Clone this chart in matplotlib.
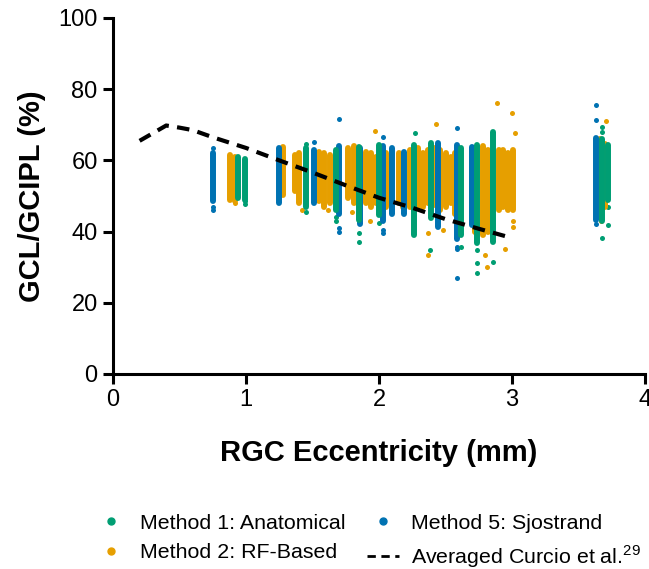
import matplotlib
matplotlib.use("Agg")
import matplotlib.pyplot as plt
from matplotlib.lines import Line2D

plt.rcParams['font.family'] = ['Liberation Sans', 'DejaVu Sans']
plt.rcParams['mathtext.fontset'] = 'custom'
plt.rcParams['mathtext.rm'] = 'Liberation Sans'

GREEN = '#009E73'
ORANGE = '#E69F00'
BLUE = '#0072B2'

# dense bands of each strip column: eccentricity (mm), lowest and highest value (%)
m1_x = [0.94, 0.99, 1.45, 1.68, 1.85, 2.00, 2.26, 2.39, 2.62, 2.74, 2.86, 3.68, 3.72]
m1_lo = [49.5, 49, 47, 46, 43.3, 44.7, 39, 43.8, 39, 36.8, 37, 43, 49]
m1_hi = [61, 60.5, 63.5, 63, 63.8, 64.3, 64.3, 65, 63.5, 64.3, 68, 66, 64.3]

m2_x = [0.88, 0.92, 1.28, 1.37, 1.40, 1.55, 1.59, 1.63, 1.77, 1.81, 1.90, 1.94, 1.98,
        2.05, 2.08, 2.15, 2.18, 2.23, 2.29, 2.33, 2.37, 2.42, 2.46, 2.50, 2.54, 2.57,
        2.72, 2.78, 2.82, 2.90, 2.93, 2.97, 3.01, 3.66, 3.70]
m2_lo = [49, 48.5, 50.3, 51.5, 48, 48.5, 47, 48, 49.5, 48, 48, 47, 48,
         47, 48, 48, 47, 47, 47, 47, 48, 47.5, 46, 47, 48, 45,
         40, 39, 40, 46, 47, 46, 46, 44, 47]
m2_hi = [61.5, 61, 63.8, 61.5, 62, 62.5, 62, 61.5, 63.5, 64, 62.5, 62, 61,
         62, 61, 62, 61, 63, 63.5, 62, 63, 63.5, 63, 62, 61, 62,
         63.5, 64, 63, 63, 63, 62, 63, 66, 64.5]

m5_x = [0.75, 1.25, 1.51, 1.70, 1.86, 2.03, 2.10, 2.19, 2.44, 2.59, 2.70, 3.63]
m5_lo = [48.5, 48, 48, 45, 42, 43, 45, 45, 41.3, 38, 41.9, 43.3]
m5_hi = [62, 63.5, 63, 64, 63.5, 64, 63.5, 62.5, 65, 64.3, 63.8, 66.3]

# isolated points outside the bands
m1_out_x = [0.99, 0.99, 1.45, 1.45, 1.68, 1.68, 1.85, 1.85, 2.00, 2.27, 2.38, 2.62,
            2.74, 2.74, 2.74, 2.86, 3.68, 3.68, 3.68, 3.72, 3.72]
m1_out_y = [48.6, 47.8, 64.5, 45.5, 44, 43, 39.6, 37, 42.4, 67.7, 34.8, 35.7,
            34.8, 31.2, 28.4, 31.5, 69.4, 68, 38.2, 47, 41.9]
m2_out_x = [0.92, 1.42, 1.62, 1.80, 1.97, 1.93, 2.37, 2.37, 2.43, 2.48, 2.80, 2.81,
            2.89, 3.00, 3.02, 2.95, 3.01, 3.01, 3.71, 3.67]
m2_out_y = [48, 46, 46, 45.5, 68.3, 43, 33.4, 39.6, 70.2, 40.4, 33.4, 30,
            76.1, 73.3, 67.7, 35, 43, 41.3, 71, 43]
m5_out_x = [0.75, 0.75, 0.75, 1.51, 1.70, 1.70, 1.70, 2.03, 2.03, 2.03, 2.59, 2.59,
            2.59, 2.59, 3.63, 3.63, 3.63]
m5_out_y = [63.5, 47, 46, 65.2, 71.6, 41, 40, 66.5, 40.4, 39.5, 69, 35.7,
            35, 27, 75.6, 71.3, 42]

# averaged Curcio et al. curve
curcio_x = [0.2, 0.4, 0.5, 0.6, 0.75, 1.0, 1.25, 1.5, 1.75, 2.0, 2.25, 2.5, 2.75, 3.0]
curcio_y = [65.5, 69.8, 69.2, 68.5, 66.5, 63.5, 60, 56.6, 53, 49.5, 46.7, 43.5, 40.8, 38.2]

fig = plt.figure(figsize=(6.49, 5.69), dpi=100)
ax = fig.add_axes([113 / 649, 1 - 374 / 569, 532 / 649, 356 / 569])

for xs, lo, hi, c in [(m2_x, m2_lo, m2_hi, ORANGE), (m5_x, m5_lo, m5_hi, BLUE),
                      (m1_x, m1_lo, m1_hi, GREEN)]:
    lc = ax.vlines(xs, lo, hi, colors=c, lw=4.3)
    lc.set_capstyle('round')

ax.scatter(m2_out_x, m2_out_y, s=13, color=ORANGE, lw=0)
ax.scatter(m5_out_x, m5_out_y, s=13, color=BLUE, lw=0)
ax.scatter(m1_out_x, m1_out_y, s=13, color=GREEN, lw=0)

ax.plot(curcio_x, curcio_y, color='black', lw=3, linestyle=(0, (3, 2)))

ax.set_xlim(0, 4)
ax.set_ylim(0, 100)
ax.set_xticks([0, 1, 2, 3, 4])
ax.set_yticks([0, 20, 40, 60, 80, 100])
for s in ['top', 'right']:
    ax.spines[s].set_visible(False)
for s in ['left', 'bottom']:
    ax.spines[s].set_linewidth(2.2)
ax.tick_params(width=2.2, length=7, labelsize=17, pad=4)
ax.set_xlabel('RGC Eccentricity (mm)', fontsize=21, fontweight='bold', labelpad=20)
ax.set_ylabel('GCL/GCIPL (%)', fontsize=21, fontweight='bold', labelpad=9)

handles = [
    Line2D([], [], marker='o', ls='none', color=GREEN, markersize=5),
    Line2D([], [], marker='o', ls='none', color=ORANGE, markersize=5),
    Line2D([], [], marker='o', ls='none', color=BLUE, markersize=5),
    Line2D([], [], color='black', lw=2, linestyle=(0, (3, 2))),
]
labels = ['Method 1: Anatomical', 'Method 2: RF-Based', 'Method 5: Sjostrand',
          'Averaged Curcio et al.$^{\\mathregular{29}}$']
fig.legend(handles, labels, loc='center', bbox_to_anchor=(368 / 649, 0.048), ncol=2,
           frameon=False, fontsize=15.4, handlelength=1.5, handletextpad=0.6,
           columnspacing=1.0, labelspacing=0.5)

fig.savefig('out.png', dpi=100)
